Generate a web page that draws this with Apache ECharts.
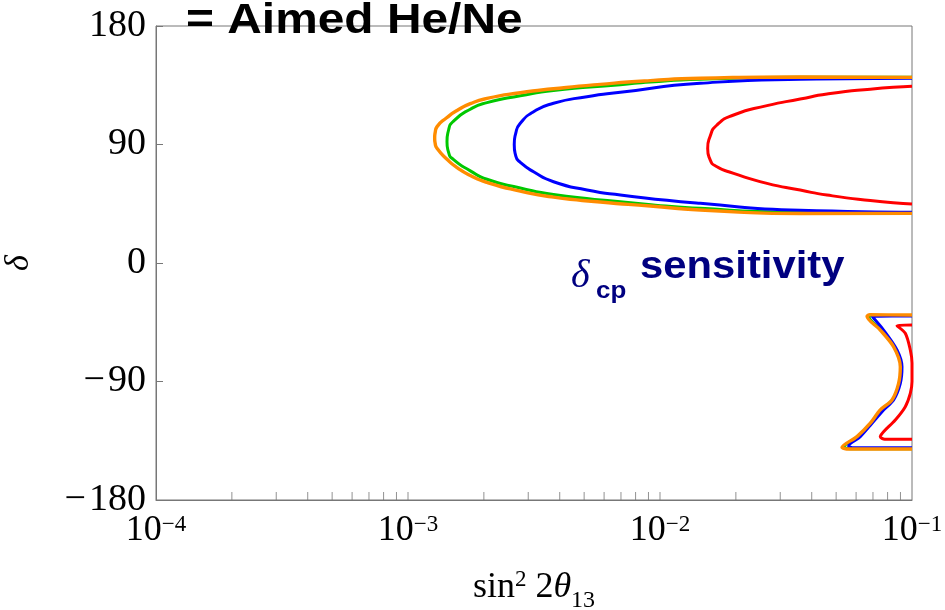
<!DOCTYPE html>
<html>
<head>
<meta charset="utf-8">
<script src="https://cdn.jsdelivr.net/npm/echarts@6/dist/echarts.min.js"></script>
<style>
html,body{margin:0;padding:0;background:#fff;}
#chart{width:945px;height:610px;}
</style>
</head>
<body>
<div id="chart"></div>
<script>
// ---- data (x = sin^2 2theta13, y = delta in degrees) ----
var xTickExponents = [-4, -3, -2, -1];
var yTicks = [-180, -90, 0, 90, 180];

var orangeUpper = [[0.1,141.0],[0.036,141.3],[0.01445,140.3],[0.00915,138.5],[0.005795,135.7],[0.00378,132.3],[0.00279,129.3],[0.002058,125.0],[0.001767,121.0],[0.001565,115.8],[0.001428,110.5],[0.001303,103.5],[0.001283,99.5],[0.001276,95.0],[0.001283,90.5],[0.001303,87.1],[0.001428,78.8],[0.001565,72.5],[0.001767,66.5],[0.002058,61.2],[0.00279,54.6],[0.00378,50.0],[0.005795,46.3],[0.00915,43.3],[0.01445,40.3],[0.036,37.6],[0.1,37.7]];
var greenUpper = [[0.1,141.0],[0.036,141.0],[0.01445,139.6],[0.00915,137.5],[0.00696,135.4],[0.00378,131.0],[0.00279,127.0],[0.002058,121.8],[0.001767,116.8],[0.001517,107.8],[0.001449,101.0],[0.001428,92.1],[0.001449,84.0],[0.001517,78.5],[0.001767,70.0],[0.002058,63.6],[0.00279,57.0],[0.00378,52.0],[0.00696,46.6],[0.01445,41.5],[0.036,38.5],[0.1,37.8]];
var blueUpper = [[0.1,140.3],[0.036,139.5],[0.01445,136.5],[0.00696,129.6],[0.00513,126.3],[0.00378,121.3],[0.00315,114.9],[0.00279,106.1],[0.00268,99.0],[0.00264,90.0],[0.00268,81.0],[0.00279,76.5],[0.00315,69.3],[0.00378,61.7],[0.00513,55.4],[0.00696,51.6],[0.01445,45.3],[0.036,40.0],[0.1,38.5]];
var redUpper = [[0.1,134.2],[0.06832,132.0],[0.046,128.3],[0.036,124.5],[0.02658,119.5],[0.0196,112.4],[0.01683,104.8],[0.0158,96.0],[0.01546,87.0],[0.0158,78.5],[0.01683,73.1],[0.0196,68.1],[0.02658,60.5],[0.036,55.4],[0.046,51.6],[0.06832,47.5],[0.1,44.8]];

var orangeLower = [[0.1,-39.5],[0.068,-39.3],[0.0663,-40.5],[0.07483,-50.9],[0.08453,-63.6],[0.08988,-78.8],[0.08849,-91.4],[0.08329,-104.0],[0.07483,-111.6],[0.06832,-121.7],[0.06049,-131.9],[0.05277,-140.0],[0.056,-141.3],[0.1,-141.3]];
var greenLower = [[0.1,-39.8],[0.069,-39.8],[0.0675,-40.8],[0.0755,-51.0],[0.0852,-64.0],[0.0905,-78.8],[0.0891,-91.4],[0.0838,-104.0],[0.0755,-111.6],[0.0688,-121.7],[0.061,-131.9],[0.0535,-139.8],[0.057,-141.0],[0.1,-141.0]];
var blueLower = [[0.1,-40.3],[0.0694,-40.5],[0.07713,-51.0],[0.08719,-66.1],[0.09126,-78.8],[0.08988,-91.4],[0.08453,-104.0],[0.07713,-111.6],[0.0694,-121.7],[0.06233,-131.9],[0.05603,-139.0],[0.058,-140.3],[0.1,-140.3]];
var redLower = [[0.1,-47.1],[0.08719,-47.6],[0.09406,-53.4],[0.09847,-66.1],[0.1,-76.0],[0.1,-90.0],[0.09847,-99.0],[0.09406,-109.1],[0.08584,-119.2],[0.07713,-128.1],[0.07483,-131.9],[0.078,-133.9],[0.1,-133.9]];

// minor tick positions on the log axis
var minorTickX = [];
[-4, -3, -2].forEach(function (e) {
  for (var k = 2; k <= 10; k++) { if (!(e === -2 && k === 10)) minorTickX.push(k * Math.pow(10, e)); }
});

var chart = echarts.init(document.getElementById('chart'));

function curve(data, color, width, smooth) {
  return {
    type: 'line', data: data, showSymbol: false, symbol: 'none',
    smooth: smooth,
    lineStyle: { color: color, width: width },
    silent: true, z: 3
  };
}

var option = {
  animation: false,
  backgroundColor: '#ffffff',
  grid: { left: 156, right: 33, top: 26, bottom: 110, show: true, borderColor: '#777', borderWidth: 1,
          backgroundColor: 'transparent', containLabel: false, outerBoundsMode: 'none' },
  xAxis: {
    type: 'log', logBase: 10, min: 1e-4, max: 0.1,
    axisLine: { show: true, onZero: false, lineStyle: { color: '#777', width: 1 } },
    axisTick: { show: false },
    splitLine: { show: false },
    minorTick: { show: false },
    axisLabel: {
      margin: 13,
      formatter: function (v) {
        var e = Math.round(Math.log10(v));
        if (xTickExponents.indexOf(e) < 0) return '';
        return '{b|10}{s|\u2212' + Math.abs(e) + '}';
      },
      rich: {
        b: { fontFamily: 'Liberation Serif', fontSize: 36, color: '#000', verticalAlign: 'bottom', lineHeight: 36 },
        s: { fontFamily: 'Liberation Serif', fontSize: 23, color: '#000', verticalAlign: 'top', lineHeight: 22 }
      }
    },
    name: '{n|sin}{p|2}{n| 2}{t|\u03b8}{q|13}',
    nameLocation: 'middle', nameGap: 68,
    nameTextStyle: {
      rich: {
        n: { fontFamily: 'Liberation Serif', fontSize: 36, color: '#000', verticalAlign: 'bottom', lineHeight: 38 },
        t: { fontFamily: 'Liberation Serif', fontStyle: 'italic', fontSize: 36, color: '#000', verticalAlign: 'bottom', lineHeight: 38 },
        p: { fontFamily: 'Liberation Serif', fontSize: 23, color: '#000', verticalAlign: 'top', lineHeight: 23 },
        q: { fontFamily: 'Liberation Serif', fontSize: 24, color: '#000', verticalAlign: 'bottom', lineHeight: 27, padding: [0,0,-7,0] }
      }
    }
  },
  yAxis: {
    type: 'value', min: yTicks[0], max: yTicks[yTicks.length - 1], interval: 90,
    axisLine: { show: true, onZero: false, lineStyle: { color: '#777', width: 1 } },
    axisTick: { show: true, inside: true, length: 7, lineStyle: { color: '#777' } },
    splitLine: { show: false },
    axisLabel: {
      margin: 10, fontFamily: 'Liberation Serif', fontSize: 38, color: '#000',
      formatter: function (v) { return String(v).replace('-', '\u2212\u200a'); }
    },
    name: '\u03b4', nameLocation: 'middle', nameGap: 120, nameRotate: 90,
    nameTextStyle: { fontFamily: 'Liberation Serif', fontStyle: 'italic', fontSize: 34, color: '#000' }
  },
  series: [
    {
      type: 'scatter', data: minorTickX.map(function (x) { return [x, -180]; }),
      symbol: 'rect', symbolSize: [1, 8], symbolOffset: [0, -4],
      itemStyle: { color: '#777' }, silent: true, clip: false, z: 2
    },
    curve(greenUpper, '#00c800', 3, 0.6),
    curve(greenLower, '#00c800', 3, 0.3),
    curve(redUpper, '#ff0000', 3, 0.6),
    curve(redLower, '#ff0000', 3, 0.3),
    curve(blueUpper, '#0000ff', 3, 0.6),
    curve(blueLower, '#0000ff', 3, 0.3),
    curve(orangeUpper, '#ff8c00', 3.4, 0.6),
    curve(orangeLower, '#ff8c00', 3.4, 0.3)
  ],
  graphic: [
    { type: 'text', left: 186, top: 0, z: 10, scaleX: 1.14,
      style: { text: '= Aimed He/Ne', fontFamily: 'Liberation Sans', fontWeight: 'bold', fontSize: 42, fill: '#000' } },
    { type: 'text', x: 571, y: 256, z: 10,
      style: { text: '\u03b4', fontFamily: 'Liberation Serif', fontStyle: 'italic', fontSize: 40, fill: '#000080' } },
    { type: 'text', x: 596, y: 279, z: 10, scaleX: 1.08,
      style: { text: 'cp', fontFamily: 'Liberation Sans', fontWeight: 'bold', fontSize: 24, fill: '#000080' } },
    { type: 'text', x: 640, y: 249, z: 10, scaleX: 1.1,
      style: { text: 'sensitivity', fontFamily: 'Liberation Sans', fontWeight: 'bold', fontSize: 38, fill: '#000080' } }
  ]
};
chart.setOption(option);
</script>
</body>
</html>
